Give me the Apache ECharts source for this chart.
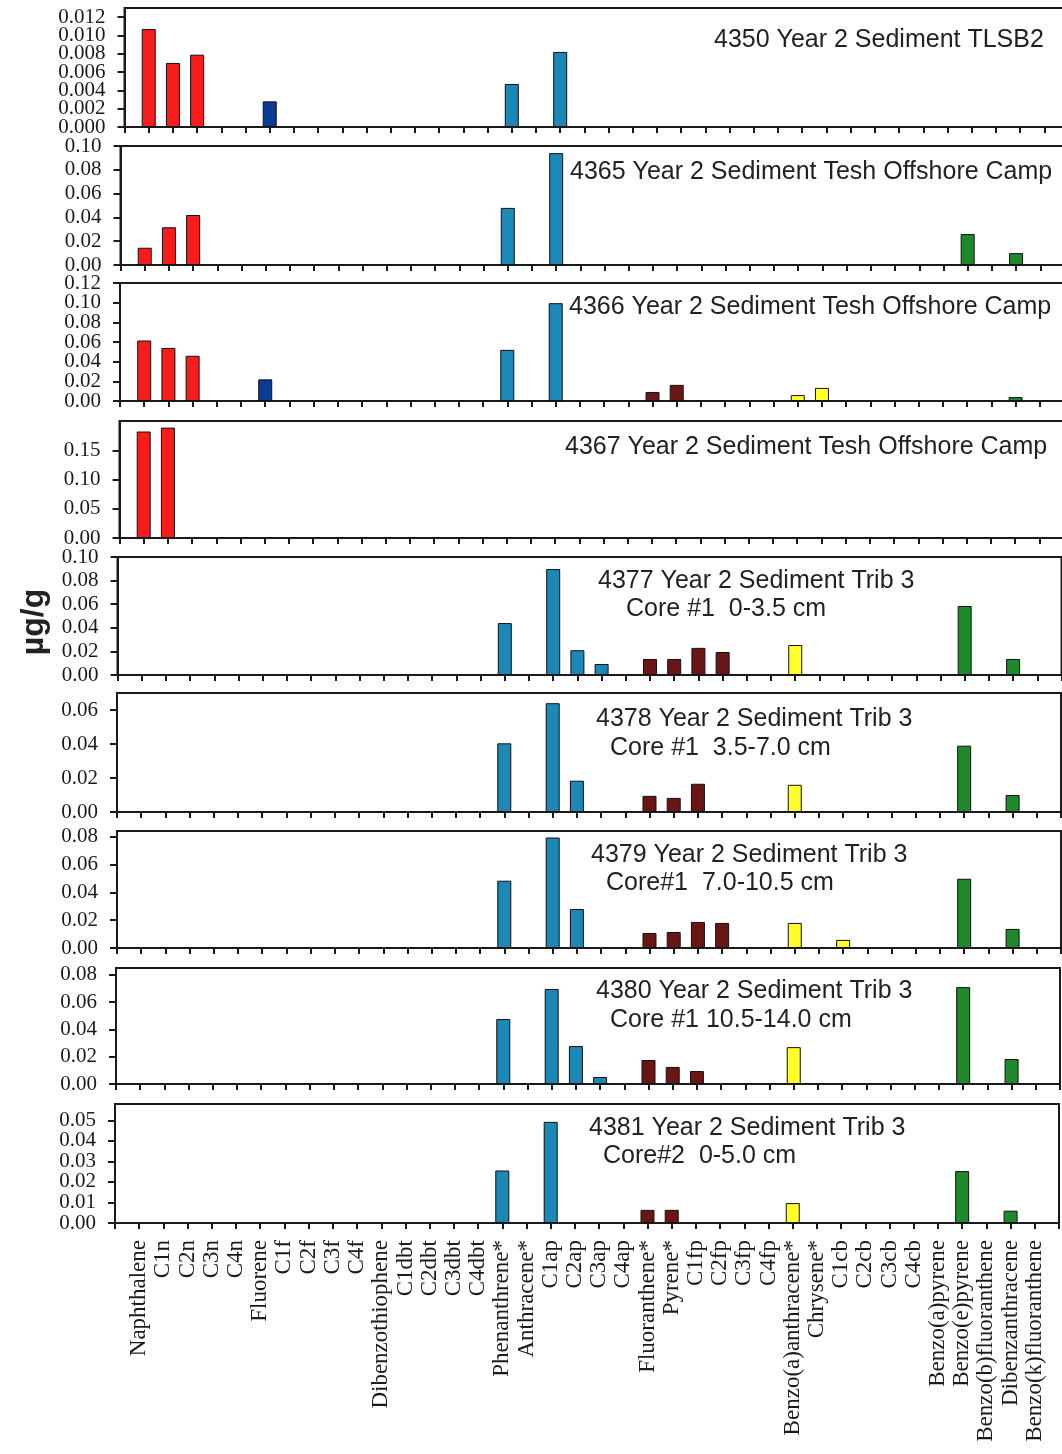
<!DOCTYPE html>
<html>
<head>
<meta charset="utf-8">
<script src="https://cdn.jsdelivr.net/npm/echarts@6/dist/echarts.min.js"></script>
<style>
  html, body { margin: 0; padding: 0; background: #fff; }
  #chart { width: 1062px; height: 1454px; }
</style>
</head>
<body>
<div id="chart"></div>
<script>
// PAH compound groups, in axis order
const naphthalenes = ['Naphthalene', 'C1n', 'C2n', 'C3n', 'C4n'];
const fluorenes = ['Fluorene', 'C1f', 'C2f', 'C3f', 'C4f'];
const dibenzothiophenes = ['Dibenzothiophene', 'C1dbt', 'C2dbt', 'C3dbt', 'C4dbt'];
const phenanthrenes = ['Phenanthrene*', 'Anthracene*', 'C1ap', 'C2ap', 'C3ap', 'C4ap'];
const fluoranthenes = ['Fluoranthene*', 'Pyrene*', 'C1fp', 'C2fp', 'C3fp', 'C4fp'];
const chrysenes = ['Benzo(a)anthracene*', 'Chrysene*', 'C1cb', 'C2cb', 'C3cb', 'C4cb'];
const heavyPAHs = ['Benzo(a)pyrene', 'Benzo(e)pyrene', 'Benzo(b)fluoranthene', 'Dibenzanthracene', 'Benzo(k)fluoranthene'];

const compounds = [].concat(naphthalenes, fluorenes, dibenzothiophenes, phenanthrenes,
  fluoranthenes, chrysenes, heavyPAHs);

// Concentrations (µg/g) per sample; compounds not listed were not detected
const s4350 = [['Naphthalene', 0.0107], ['C1n', 0.0070], ['C2n', 0.0079], ['Fluorene', 0.0028],
  ['Phenanthrene*', 0.0047], ['C1ap', 0.0082]];
const s4365 = [['Naphthalene', 0.0145], ['C1n', 0.0317], ['C2n', 0.042], ['Phenanthrene*', 0.048],
  ['C1ap', 0.094], ['Benzo(e)pyrene', 0.026], ['Dibenzanthracene', 0.010]];
const s4366 = [['Naphthalene', 0.0615], ['C1n', 0.054], ['C2n', 0.046], ['Fluorene', 0.022],
  ['Phenanthrene*', 0.052], ['C1ap', 0.0995], ['Fluoranthene*', 0.0092], ['Pyrene*', 0.0164],
  ['Benzo(a)anthracene*', 0.006], ['Chrysene*', 0.0133], ['Dibenzanthracene', 0.004]];
const s4367 = [['Naphthalene', 0.182], ['C1n', 0.1887]];
const s4377 = [['Phenanthrene*', 0.044], ['C1ap', 0.0898], ['C2ap', 0.021], ['C3ap', 0.0093],
  ['Fluoranthene*', 0.0136], ['Pyrene*', 0.0136], ['C1fp', 0.023], ['C2fp', 0.0195],
  ['Benzo(a)anthracene*', 0.0254], ['Benzo(e)pyrene', 0.0585], ['Dibenzanthracene', 0.0136]];
const s4378 = [['Phenanthrene*', 0.0404], ['C1ap', 0.064], ['C2ap', 0.0184], ['Fluoranthene*', 0.0095],
  ['Pyrene*', 0.0083], ['C1fp', 0.0166], ['Benzo(a)anthracene*', 0.016], ['Benzo(e)pyrene', 0.039],
  ['Dibenzanthracene', 0.010]];
const s4379 = [['Phenanthrene*', 0.0483], ['C1ap', 0.0793], ['C2ap', 0.028], ['Fluoranthene*', 0.0108],
  ['Pyrene*', 0.0115], ['C1fp', 0.0187], ['C2fp', 0.018], ['Benzo(a)anthracene*', 0.018],
  ['C1cb', 0.0058], ['Benzo(e)pyrene', 0.0497], ['Dibenzanthracene', 0.0137]];
const s4380 = [['Phenanthrene*', 0.0476], ['C1ap', 0.0696], ['C2ap', 0.0278], ['C3ap', 0.0051],
  ['Fluoranthene*', 0.0176], ['Pyrene*', 0.0125], ['C1fp', 0.0095], ['Benzo(a)anthracene*', 0.027],
  ['Benzo(e)pyrene', 0.071], ['Dibenzanthracene', 0.0183]];
const s4381 = [['Phenanthrene*', 0.0256], ['C1ap', 0.0493], ['Fluoranthene*', 0.0064], ['Pyrene*', 0.0064],
  ['Benzo(a)anthracene*', 0.0097], ['Benzo(e)pyrene', 0.0253], ['Dibenzanthracene', 0.006]];

// Y-axis tick labels for each panel
const ticks4350 = [0, 0.002, 0.004, 0.006, 0.008, 0.010, 0.012];
const ticks4365 = [0, 0.02, 0.04, 0.06, 0.08, 0.10];
const ticks4366 = [0, 0.02, 0.04, 0.06, 0.08, 0.10, 0.12];
const ticks4367 = [0, 0.05, 0.10, 0.15];
const ticks4377 = [0, 0.02, 0.04, 0.06, 0.08, 0.10];
const ticks4378 = [0, 0.02, 0.04, 0.06];
const ticks4379 = [0, 0.02, 0.04, 0.06, 0.08];
const ticks4380 = [0, 0.02, 0.04, 0.06, 0.08];
const ticks4381 = [0, 0.01, 0.02, 0.03, 0.04, 0.05];

// Panel titles
const titles4350 = ['4350 Year 2 Sediment TLSB2'];
const titles4365 = ['4365 Year 2 Sediment Tesh Offshore Camp'];
const titles4366 = ['4366 Year 2 Sediment Tesh Offshore Camp'];
const titles4367 = ['4367 Year 2 Sediment Tesh Offshore Camp'];
const titles4377 = ['4377 Year 2 Sediment Trib 3', 'Core #1  0-3.5 cm'];
const titles4378 = ['4378 Year 2 Sediment Trib 3', 'Core #1  3.5-7.0 cm'];
const titles4379 = ['4379 Year 2 Sediment Trib 3', 'Core#1  7.0-10.5 cm'];
const titles4380 = ['4380 Year 2 Sediment Trib 3', 'Core #1 10.5-14.0 cm'];
const titles4381 = ['4381 Year 2 Sediment Trib 3', 'Core#2  0-5.0 cm'];

// Bar fill for each compound group
const groupColors = [
  [naphthalenes, '#f81c1c'],
  [fluorenes, '#0b3c93'],
  [dibenzothiophenes, '#7a7a7a'],
  [phenanthrenes, '#1b88b6'],
  [fluoranthenes, '#6b1616'],
  [chrysenes, '#ffff2a'],
  [heavyPAHs, '#1f8a2c']
];
function colorOf(name) {
  for (const [list, c] of groupColors) if (list.indexOf(name) >= 0) return c;
  return '#888';
}

// Layout of the stacked panels
const panels = [
  { data: s4350, ticks: ticks4350, titles: titles4350, max: 0.013, dec: 3, left: 124.5, top: 8, height: 119,
    titlePos: [[714, 40]] },
  { data: s4365, ticks: ticks4365, titles: titles4365, max: 0.10, dec: 2, left: 120.5, top: 146, height: 119,
    titlePos: [[570, 172]] },
  { data: s4366, ticks: ticks4366, titles: titles4366, max: 0.12, dec: 2, left: 120, top: 283, height: 118,
    titlePos: [[569, 307]] },
  { data: s4367, ticks: ticks4367, titles: titles4367, max: 0.20, dec: 2, left: 119.5, top: 421, height: 117,
    titlePos: [[565, 447]] },
  { data: s4377, ticks: ticks4377, titles: titles4377, max: 0.10, dec: 2, left: 117.5, top: 557, height: 118,
    titlePos: [[598, 581], [626, 609]] },
  { data: s4378, ticks: ticks4378, titles: titles4378, max: 0.07, dec: 2, left: 117, top: 693, height: 119,
    titlePos: [[596, 719], [610, 748]] },
  { data: s4379, ticks: ticks4379, titles: titles4379, max: 0.084, dec: 2, left: 117, top: 831, height: 117,
    titlePos: [[591, 855], [606, 883]] },
  { data: s4380, ticks: ticks4380, titles: titles4380, max: 0.085, dec: 2, left: 116, top: 968, height: 116,
    titlePos: [[596, 991], [610, 1020]] },
  { data: s4381, ticks: ticks4381, titles: titles4381, max: 0.058, dec: 2, left: 115, top: 1104, height: 119,
    titlePos: [[589, 1128], [603, 1156]] }
];

const INK = '#1a1a1a';
const axisCats = [''].concat(compounds, ['']);
const last = panels.length - 1;
const labelFont = { fontFamily: 'Liberation Serif', fontSize: 21, color: INK };

const grids = [], xAxes = [], yAxes = [], series = [], graphics = [];

panels.forEach((p, i) => {
  const step = +(p.ticks[1] - p.ticks[0]).toFixed(6);
  const lastTick = p.ticks[p.ticks.length - 1];
  const topIsTick = Math.abs(lastTick - p.max) < 1e-9;
  const fmt = v => Number(v).toFixed(p.dec);

  grids.push({
    left: p.left, top: p.top, width: 944, height: p.height,
    show: true, borderColor: INK, borderWidth: 2,
    containLabel: false, outerBoundsMode: 'none'
  });
  xAxes.push({
    type: 'category', gridIndex: i, data: axisCats, boundaryGap: false,
    axisLine: { show: true, lineStyle: { color: INK, width: 2 } },
    axisTick: { show: true, interval: 0, length: 6, lineStyle: { color: INK, width: 2 } },
    axisLabel: {
      show: i === last, interval: 0, rotate: 90, margin: 17,
      fontFamily: 'Liberation Serif', fontSize: 23, color: INK
    },
    splitLine: { show: false }
  });
  // Main value axis: inner tick labels (the end labels come from the companion axis)
  yAxes.push({
    type: 'value', gridIndex: i, position: 'left', offset: 0, min: 0, max: p.max, interval: step,
    axisLine: { show: true, onZero: false, lineStyle: { color: INK, width: 2 } },
    axisTick: { show: true, inside: false, length: 7, lineStyle: { color: INK, width: 2 } },
    axisLabel: Object.assign({
      show: true, margin: 19, showMinLabel: false, showMaxLabel: false, formatter: fmt
    }, labelFont),
    splitLine: { show: false }
  });
  // Companion axis on the same scale carrying the zero label (and the top label when it is a tick)
  const ends = topIsTick ? [0, lastTick] : [0];
  yAxes.push({
    type: 'value', gridIndex: i, position: 'left', offset: 0, min: 0, max: p.max,
    axisLine: { show: false, onZero: false },
    axisTick: { show: true, inside: false, length: 7, customValues: ends, lineStyle: { color: INK, width: 2 } },
    axisLabel: Object.assign({
      show: true, margin: 19, customValues: ends, formatter: fmt
    }, labelFont),
    splitLine: { show: false }
  });

  const lookup = {};
  p.data.forEach(([name, v]) => { lookup[name] = v; });
  series.push({
    type: 'bar', xAxisIndex: i, yAxisIndex: 2 * i, barWidth: 14, silent: true,
    data: axisCats.map(name => (name in lookup)
      ? { value: lookup[name], itemStyle: { color: colorOf(name), borderColor: '#111', borderWidth: 1 } }
      : '-')
  });
  p.titles.forEach((t, k) => {
    graphics.push({
      type: 'text', x: p.titlePos[k][0], y: p.titlePos[k][1], z: 100,
      style: {
        text: t, fill: '#222', align: 'left', verticalAlign: 'middle',
        font: '25px "Liberation Sans", Arial, sans-serif'
      }
    });
  });
});

graphics.push({
  type: 'text', x: 34, y: 622, rotation: Math.PI / 2, z: 100,
  style: {
    text: 'µg/g', fill: '#222', align: 'center', verticalAlign: 'middle',
    font: 'bold 32px "Liberation Sans", Arial, sans-serif'
  }
});

const chart = echarts.init(document.getElementById('chart'), null, { renderer: 'canvas' });
chart.setOption({
  animation: false,
  backgroundColor: '#fff',
  grid: grids,
  xAxis: xAxes,
  yAxis: yAxes,
  series: series,
  graphic: graphics
});
</script>
</body>
</html>
